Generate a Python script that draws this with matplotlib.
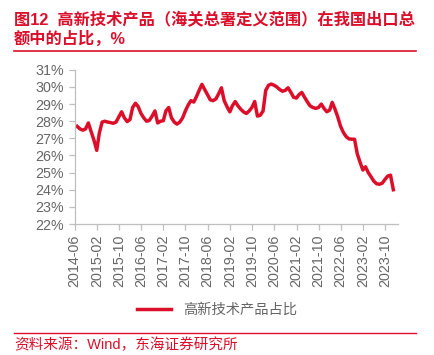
import matplotlib
matplotlib.use('Agg')
import matplotlib.pyplot as plt
import matplotlib.dates as mdates
import pandas as pd

plt.rcParams['font.family'] = ['Liberation Sans', 'Noto Sans CJK SC', 'DejaVu Sans']

# Datos: share of high-tech products in total exports (%), monthly 2014-06 .. 2023-12
months = pd.date_range('2014-06-30', periods=115, freq='ME')
share = [
    27.7, 27.55, 27.48, 27.55, 27.9, 27.4, 26.9, 26.3, 27.3, 27.95,
    28.0, 27.95, 27.92, 27.88, 27.95, 28.25, 28.55, 28.2, 27.98, 28.1,
    28.8, 29.05, 28.85, 28.45, 28.2, 28.0, 28.05, 28.3, 28.6, 27.9,
    28.0, 28.03, 28.6, 28.8, 28.2, 27.95, 27.83, 27.95, 28.2, 28.6,
    28.95, 29.2, 29.12, 29.45, 29.8, 30.15, 29.85, 29.55, 29.25, 29.2,
    29.3, 29.6, 29.95, 29.2, 28.85, 28.55, 28.9, 29.15, 28.9, 28.7,
    28.55, 28.45, 28.6, 28.8, 29.15, 28.3, 28.35, 28.6, 29.8, 30.1,
    30.17, 30.1, 30.0, 29.85, 29.75, 29.8, 29.95, 29.7, 29.4, 29.35,
    29.55, 29.68, 29.4, 29.13, 28.9, 28.8, 28.75, 28.8, 29.0, 28.75,
    28.55, 28.65, 29.1, 28.7, 28.25, 27.7, 27.35, 27.1, 26.97, 26.95,
    26.95, 26.1, 25.6, 25.15, 25.34, 25.0, 24.76, 24.5, 24.35, 24.32,
    24.38, 24.6, 24.8, 24.85, 24.0,
]
tick_dates = pd.date_range('2014-06-01', periods=15, freq='8MS')
y_ticks = list(range(22, 32))

red = '#DC0F2B'
gray = '#666666'
axis_gray = '#BFBFBF'

fig = plt.figure(figsize=(4.34, 3.55), dpi=100)
ax = fig.add_axes([0.1717, 0.369, 0.7453, 0.4343])

ax.plot(months, share, color=red, lw=2.5, solid_joinstyle='round', label='高新技术产品占比')

ax.set_ylim(22, 31)
ax.set_yticks(y_ticks)
ax.set_yticklabels([f'{v}%' for v in y_ticks])
ax.set_xlim(tick_dates[0], pd.Timestamp('2024-02-20'))
ax.set_xticks(tick_dates)
ax.xaxis.set_major_formatter(mdates.DateFormatter('%Y-%m'))
ax.tick_params(axis='x', rotation=90)

for s in ['top', 'right']:
    ax.spines[s].set_visible(False)
for s in ['left', 'bottom']:
    ax.spines[s].set_color(axis_gray)
    ax.spines[s].set_linewidth(0.9)
ax.tick_params(colors=axis_gray, labelcolor=gray, labelsize=10.3, length=4, width=0.9)

leg = fig.legend(loc='center', bbox_to_anchor=(0.5, 0.127), frameon=False,
                 handlelength=2.4, prop={'family': ['Noto Sans CJK SC'], 'size': 10.3})
for t in leg.get_texts():
    t.set_color(gray)

# Title and source
fig.text(0.032, 0.93, '图12  高新技术产品（海关总署定义范围）在我国出口总',
         color=red, fontsize=11.7, fontweight='bold', va='baseline',
         family=['Liberation Sans', 'Noto Sans CJK SC'])
fig.text(0.032, 0.878, '额中的占比，%', color=red, fontsize=11.7, fontweight='bold',
         va='baseline', family=['Liberation Sans', 'Noto Sans CJK SC'])
fig.add_artist(plt.Line2D([0.032, 0.958], [0.857, 0.857], color=red, lw=1.2))
fig.add_artist(plt.Line2D([0.032, 0.958], [0.062, 0.062], color=red, lw=1.0))
fig.text(0.032, 0.018, '资料来源：Wind，东海证券研究所', color=red, fontsize=10.5,
         va='baseline', family=['Liberation Sans', 'Noto Sans CJK SC'])

fig.savefig('out.png', dpi=100)
